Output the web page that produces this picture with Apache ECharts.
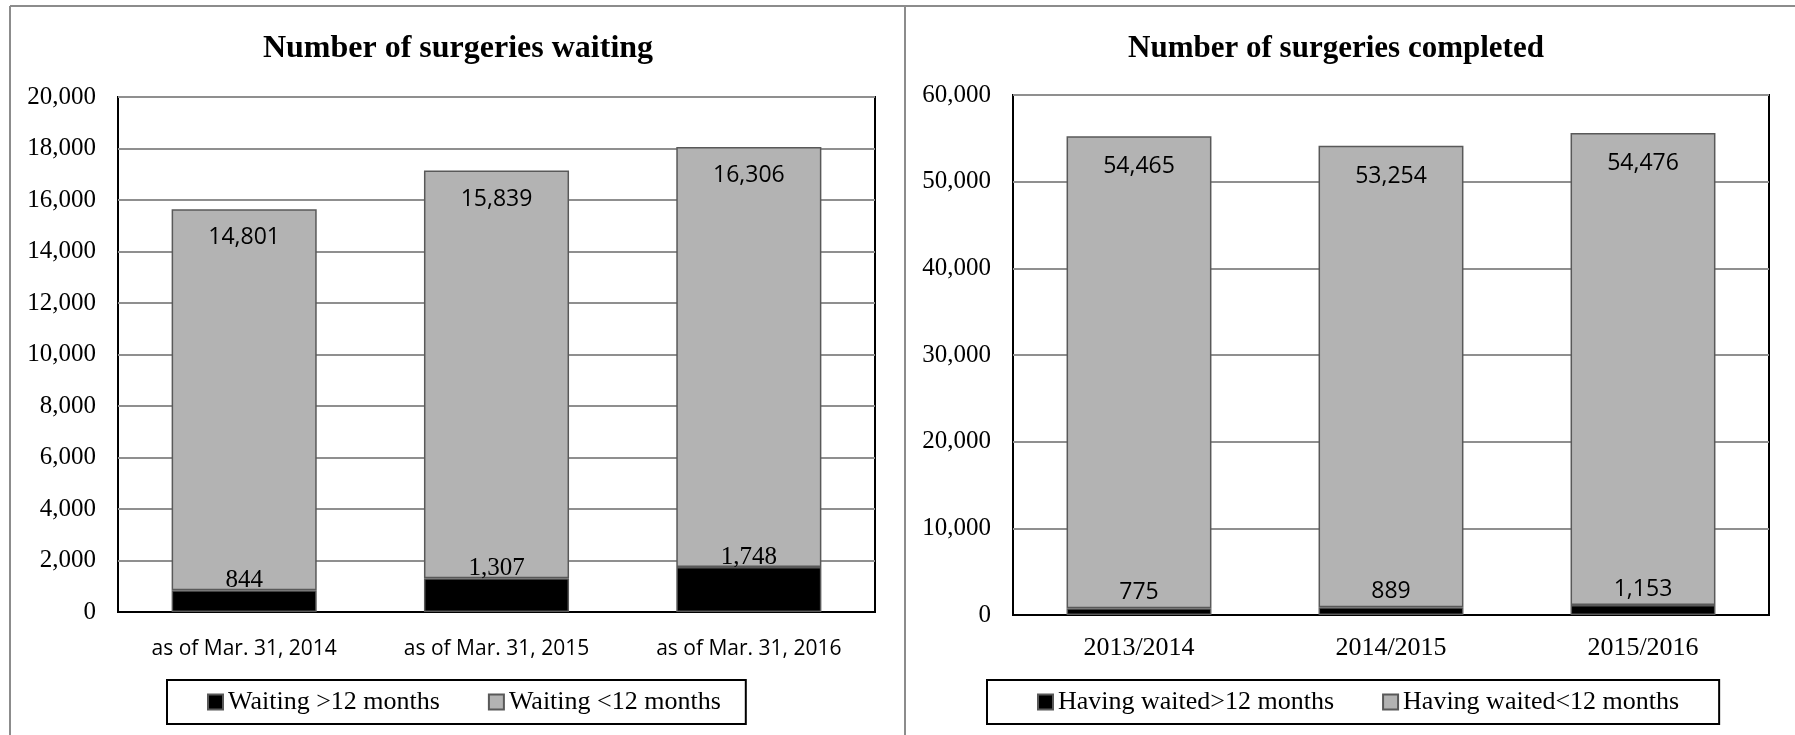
<!DOCTYPE html>
<html>
<head>
<meta charset="utf-8">
<script src="https://cdn.jsdelivr.net/npm/echarts@6/dist/echarts.min.js"></script>
<style>
  html, body { margin: 0; padding: 0; background: #fff; }
  #chart { width: 1795px; height: 735px; }
</style>
</head>
<body>
<div id="chart"></div>
<script>
// ---- data ----
const waitCategories = ['as of Mar. 31, 2014', 'as of Mar. 31, 2015', 'as of Mar. 31, 2016'];
const waitOver12 = [844, 1307, 1748];
const waitUnder12 = [14801, 15839, 16306];
const waitNames = ['Waiting >12 months', 'Waiting <12 months'];

const compCategories = ['2013/2014', '2014/2015', '2015/2016'];
const compOver12 = [775, 889, 1153];
const compUnder12 = [54465, 53254, 54476];
const compNames = ['Having waited>12 months', 'Having waited<12 months'];

const titles = ['Number of surgeries waiting', 'Number of surgeries completed'];

// ---- styles ----
const SERIF = '"Liberation Serif", "Times New Roman", serif';
const SANS = '"Open Sans", "Noto Sans", sans-serif';
const fmt = v => Number(v).toLocaleString('en-US');
const GRAY = '#b3b3b3';
const EDGE = '#595959';

function yAxis(gridIndex, max, interval) {
  return {
    type: 'value', gridIndex, min: 0, max, interval,
    axisLine: { show: false }, axisTick: { show: false },
    axisLabel: { formatter: fmt, fontFamily: SERIF, fontSize: 25, color: '#000', margin: 22 },
    splitLine: { lineStyle: { color: '#8f8f8f', width: 2 } }
  };
}
function xAxis(gridIndex, data, font, size, margin) {
  return {
    type: 'category', gridIndex, data,
    axisLine: { lineStyle: { color: '#000', width: 2 } },
    axisTick: { show: false },
    axisLabel: { fontFamily: font, fontSize: size, color: '#000', margin, interval: 0 }
  };
}

const chart = echarts.init(document.getElementById('chart'), null, { renderer: 'canvas' });
chart.setOption({
  animation: false,
  backgroundColor: '#fff',
  title: [
    { text: titles[0], left: 458, top: 33, textAlign: 'center', padding: 0,
      textStyle: { fontFamily: SERIF, fontWeight: 'bold', fontSize: 32, color: '#000' } },
    { text: titles[1], left: 1336, top: 33, textAlign: 'center', padding: 0,
      textStyle: { fontFamily: SERIF, fontWeight: 'bold', fontSize: 31, color: '#000' } }
  ],
  graphic: [
    { type: 'line', shape: { x1: 10, y1: 6, x2: 1795, y2: 6 }, style: { stroke: '#8c8c8c', lineWidth: 2 } },
    { type: 'line', shape: { x1: 10, y1: 6, x2: 10, y2: 735 }, style: { stroke: '#8c8c8c', lineWidth: 2 } },
    { type: 'line', shape: { x1: 905, y1: 6, x2: 905, y2: 735 }, style: { stroke: '#8c8c8c', lineWidth: 2 } }
  ],
  grid: [
    { left: 118, right: 1795 - 875, top: 97, bottom: 735 - 612, show: true,
      borderColor: '#000', borderWidth: 2, backgroundColor: 'transparent' },
    { left: 1013, right: 1795 - 1769, top: 95, bottom: 735 - 615, show: true,
      borderColor: '#000', borderWidth: 2, backgroundColor: 'transparent' }
  ],
  xAxis: [
    xAxis(0, waitCategories, SANS, 21, 27),
    xAxis(1, compCategories, SERIF, 26, 20)
  ],
  yAxis: [
    yAxis(0, 20000, 2000),
    yAxis(1, 60000, 10000)
  ],
  legend: [
    { data: waitNames, left: 167, top: 680, orient: 'horizontal',
      padding: [9, 25, 9, 40], itemGap: 48, itemWidth: 15, itemHeight: 15,
      borderColor: '#000', borderWidth: 2, icon: 'rect',
      textStyle: { fontFamily: SERIF, fontSize: 26, color: '#000' } },
    { data: compNames, left: 987, top: 680, orient: 'horizontal',
      padding: [9, 40, 9, 50], itemGap: 48, itemWidth: 15, itemHeight: 15,
      borderColor: '#000', borderWidth: 2, icon: 'rect',
      textStyle: { fontFamily: SERIF, fontSize: 26, color: '#000' } }
  ],
  series: [
    // left chart
    { name: waitNames[0], type: 'bar', stack: 'w', xAxisIndex: 0, yAxisIndex: 0, z: 4,
      data: waitOver12, barWidth: '57.5%',
      itemStyle: { color: '#000', borderColor: EDGE, borderWidth: 1.5 },
      label: { show: false } },
    { name: waitNames[1], type: 'bar', stack: 'w', xAxisIndex: 0, yAxisIndex: 0, z: 2,
      data: waitUnder12, barWidth: '57.5%',
      itemStyle: { color: GRAY, borderColor: EDGE, borderWidth: 1.5 },
      label: { show: true, position: 'insideTop', distance: 17, formatter: p => fmt(p.value),
               fontFamily: SANS, fontSize: 23, color: '#000' } },
    { name: 'waitOverLabels', type: 'line', xAxisIndex: 0, yAxisIndex: 0, z: 3,
      data: waitOver12, symbol: 'rect', symbolSize: 1,
      itemStyle: { color: 'rgba(0,0,0,0)' }, lineStyle: { width: 0, opacity: 0 },
      silent: true, emphasis: { disabled: true },
      label: { show: true, position: 'top', distance: -3, formatter: p => fmt(p.value),
               fontFamily: SERIF, fontSize: 25, color: '#000' } },
    // right chart
    { name: compNames[0], type: 'bar', stack: 'c', xAxisIndex: 1, yAxisIndex: 1, z: 4,
      data: compOver12, barWidth: '57.5%',
      itemStyle: { color: '#000', borderColor: EDGE, borderWidth: 1.5 },
      label: { show: true, position: 'top', distance: 4, formatter: p => fmt(p.value),
               fontFamily: SANS, fontSize: 23, color: '#000' } },
    { name: compNames[1], type: 'bar', stack: 'c', xAxisIndex: 1, yAxisIndex: 1, z: 2,
      data: compUnder12, barWidth: '57.5%',
      itemStyle: { color: GRAY, borderColor: EDGE, borderWidth: 1.5 },
      label: { show: true, position: 'insideTop', distance: 19, formatter: p => fmt(p.value),
               fontFamily: SANS, fontSize: 23, color: '#000' } }
  ]
});
</script>
</body>
</html>
